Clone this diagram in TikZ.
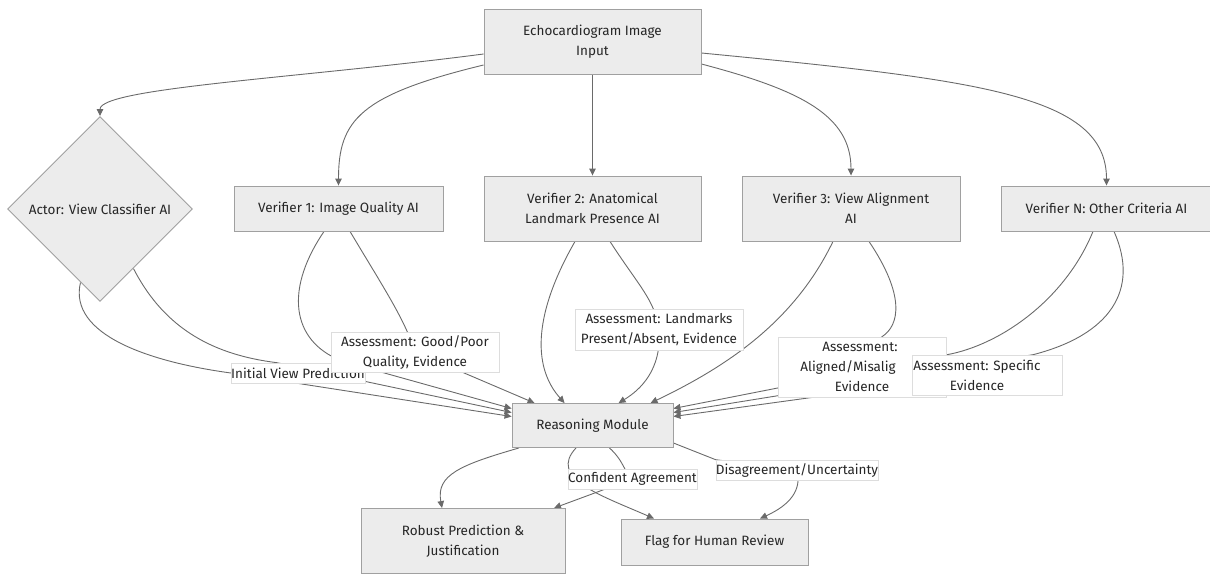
\documentclass[tikz,border=0pt]{standalone}
\usepackage{fontspec}
\setmainfont{Fira Sans}
\usetikzlibrary{shapes.geometric,arrows.meta,calc}
\definecolor{nodefill}{HTML}{ECECEC}
\definecolor{nodedraw}{HTML}{A0A0A0}
\definecolor{edgecol}{HTML}{6A6A6A}
\definecolor{txtcol}{HTML}{262626}
\definecolor{labdraw}{HTML}{DDDDDD}
\pgfdeclarelayer{bg}
\pgfsetlayers{bg,main}
\newcommand{\padr}[1]{\rule{#1}{0pt}}
\begin{document}
\begin{tikzpicture}[x=1pt,y=-1pt,
  font=\fontsize{13.5}{20}\selectfont,
  box/.style={draw=nodedraw, fill=nodefill, line width=0.9pt, text=txtcol, align=center, inner sep=0pt},
  lab/.style={draw=labdraw, fill=white, line width=0.6pt, text=txtcol, align=center, inner sep=0pt},
  edge/.style={draw=edgecol, line width=0.9pt, -{Triangle[length=7pt,width=6.5pt]}}]
\useasboundingbox (0,0) rectangle (1210,573);

% main nodes
\node[box, minimum width=217, minimum height=65] (in) at (592.5,41.5) {Echocardiogram Image\\Input};
\node[box, shape=diamond, aspect=1, minimum width=185, minimum height=185] (actor) at (100,209) {Actor: View Classifier AI};
\node[box, minimum width=209, minimum height=45] (v1) at (338.5,208.5) {Verifier 1: Image Quality AI};
\node[box, minimum width=217, minimum height=65] (v2) at (592.5,208.5) {Verifier 2: Anatomical\\Landmark Presence AI};
\node[box, minimum width=218, minimum height=65] (v3) at (851,208.5) {Verifier 3: View Alignment\\AI};
\node[box, minimum width=211, minimum height=45] (vn) at (1106.5,208.5) {Verifier N: Other Criteria AI};
\node[box, minimum width=161, minimum height=44] (rm) at (592.5,425.5) {Reasoning Module};
\node[box, minimum width=204, minimum height=65] (rp) at (463,541) {Robust Prediction \&\\Justification};
\node[box, minimum width=187, minimum height=46] (fh) at (714.5,542) {Flag for Human Review};

% edge labels
\node[lab, minimum width=132, minimum height=20] (initlab) at (298,373) {Initial View Prediction};
\node[lab, minimum width=168, minimum height=40] (v1lab) at (415,352) {Assessment: Good/Poor\\Quality, Evidence};
\node[lab, minimum width=168, minimum height=41] (v2lab) at (659,329.5) {Assessment: Landmarks\\Present/Absent, Evidence};
\node[lab, minimum width=168, minimum height=60] (v3lab) at (862,367) {Assessment:\padr{4pt}\\Aligned/Misalig\padr{28pt}\\Evidence};
\node[lab, minimum width=150, minimum height=40] (vnlab) at (987,375) {Assessment: Specific\padr{20pt}\\Evidence\padr{20pt}};
\node[lab, minimum width=127, minimum height=20] (conflab) at (632.5,479) {Confident Agreement};
\node[lab, minimum width=160, minimum height=20] (dislab) at (797,470) {Disagreement/Uncertainty};

\begin{pgfonlayer}{bg}
% from input
\draw[edge] ([yshift=-12.5pt]in.west) .. controls (300,78) and (100,88) .. (actor.north);
\draw[edge] ([yshift=-23.5pt]in.west) .. controls (360,95) and (338.5,120) .. (v1.north);
\draw[edge] (in.south) -- (v2.north);
\draw[edge] ([yshift=-22.5pt]in.east) .. controls (800,90) and (851,115) .. (v3.north);
\draw[edge] ([yshift=-11.5pt]in.east) .. controls (980,80) and (1106.5,95) .. (vn.north);
% actor
\draw[edge] ($(actor.west)!0.79!(actor.south)$) .. controls (68,335) and (150,362) .. (initlab.west) -- ([yshift=9pt]rm.west);
\draw[edge] ($(actor.south)!0.36!(actor.east)$) .. controls (165,330) and (215,355) .. ([xshift=-21pt]initlab.north) -- ([yshift=13pt]rm.west);
% verifier 1
\draw[edge] ([xshift=-14.5pt]v1.south) .. controls (281,295) and (295,345) .. (345,362) -- ([yshift=17pt]rm.west);
\draw[edge] ([xshift=11.5pt]v1.south) .. controls (385,290) and (405,320) .. (v1lab.center) -- ([xshift=23pt]rm.north west);
% verifier 2
\draw[edge] ([xshift=-17.5pt]v2.south) .. controls (530,320) and (535,370) .. ([xshift=53pt]rm.north west);
\draw[edge] ([xshift=17.5pt]v2.south) .. controls (638,285) and (655,300) .. (v2lab.center) .. controls (662,370) and (640,390) .. ([xshift=107pt]rm.north west);
% verifier 3
\draw[edge] ([xshift=-18pt]v3.south) .. controls (795,320) and (730,365) .. ([xshift=139pt]rm.north west);
\draw[edge] ([xshift=18pt]v3.south) .. controls (905,295) and (900,325) .. ([xshift=20pt]v3lab.north) -- ([xshift=-49pt]v3lab.south) -- ([yshift=9pt]rm.east);
% verifier N
\draw[edge] ([xshift=-13.5pt]vn.south) .. controls (1065,300) and (1000,345) .. ([xshift=-40pt]vnlab.north) -- ([yshift=17pt]rm.east);
\draw[edge] ([xshift=7.5pt]vn.south) .. controls (1140,290) and (1110,335) .. ([xshift=46pt]vnlab.north) -- ([yshift=13pt]rm.east);
% reasoning outputs
\draw[edge] ([xshift=-73.5pt]rm.south) .. controls (460,465) and (436,475) .. ([xshift=-21pt]rp.north);
\draw[edge] ([xshift=-16.5pt]rm.south) .. controls (548,478) and (600,495) .. ([xshift=-60.5pt]fh.north);
\draw[edge] ([xshift=17pt]rm.south) .. controls (625,462) and (625,475) .. (conflab.center) -- ([xshift=91pt]rp.north);
\draw[edge] ([yshift=-17.5pt]rm.east) -- (dislab.north west) -- (dislab.center) .. controls (802,490) and (790,505) .. ([xshift=45.5pt]fh.north);
\end{pgfonlayer}
\end{tikzpicture}
\end{document}
